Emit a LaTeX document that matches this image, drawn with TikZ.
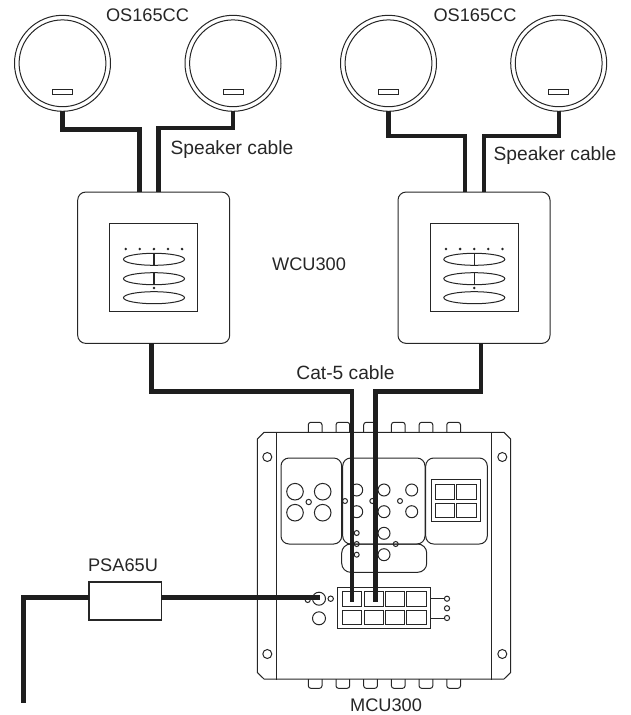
\documentclass[tikz,border=0pt]{standalone}
\usepackage{fontspec}
\setmainfont{Liberation Sans}
\definecolor{ink}{HTML}{262626}
\tikzset{
  thin line/.style={draw=ink,line width=1pt},
  cable/.style={draw=ink!80!black,line width=4.6pt,line cap=butt,line join=miter},
  speaker/.style={circle,thin line,minimum size=96pt,inner sep=0pt,outer sep=0pt},
  slot/.style={rectangle,thin line,minimum width=20pt,minimum height=5pt,inner sep=0pt},
  wallbox/.style={rectangle,thin line,rounded corners=8pt,minimum width=152pt,minimum height=151.3pt,inner sep=0pt,outer sep=0pt},
  keypad/.style={rectangle,thin line,minimum width=88pt,minimum height=88pt,inner sep=0pt},
  key/.style={ellipse,thin line,minimum width=61pt,minimum height=12pt,inner sep=0pt},
  panel/.style={thin line,rounded corners=8pt},
  hole/.style={circle,thin line,inner sep=0pt,minimum size=#1},
  hole/.default=9pt,
  cell/.style={rectangle,thin line,inner sep=0pt,outer sep=0pt},
  label/.style={inner sep=0pt,anchor=base,text=ink,font=\fontsize{18.2}{22}\selectfont},
  wordlabel/.style={label,font=\fontsize{19.2}{22}\selectfont},
}
\usetikzlibrary{shapes.geometric}
\begin{document}
\begin{tikzpicture}[x=1pt,y=-1pt]
\useasboundingbox (0,0) rectangle (630,715);
% speakers
\foreach \n/\x in {s1/62.5,s2/233,s3/388.5,s4/558.7}{
  \node[speaker] (\n) at (\x,63.3) {};
  \draw[thin line] (\x,63.3) circle[radius=43.4];
  \node[slot] (\n slot) at (\x,92) {};
}
% wall control units
\foreach \n/\d in {w1/0,w2/320.3}{
  \begin{scope}[xshift=\d pt]
  \node[wallbox] (\n) at (153.7,267.7) {};
  \node[keypad] (\n pad) at (153.7,267.7) {};
  \foreach \x in {125.7,139.8,153.9,168,182.1}
    \fill[ink] (\x,249) circle[radius=1.4];
  \node[key] (\n k1) at (154,259.3) {};
  \node[key] (\n k2) at (154,278.7) {};
  \node[key] (\n k3) at (154,297.7) {};
  \draw[ink,line width=1.6pt] (154,253.3) -- (154,265.3) (154,272.7) -- (154,284.7);
  \fill[ink] (154,288) circle[radius=1.4];
  \end{scope}
}
% MCU300 body
\node[minimum width=253.4pt,minimum height=246.7pt,inner sep=0pt,outer sep=0pt] (mcu) at (384,555.7) {};
\foreach \x in {308.3,336,363.7,391.4,419.1,446.8}{
  \draw[thin line,rounded corners=2.5pt] (\x,432.3) -- (\x,422.3) -- (\x+13.7,422.3) -- (\x+13.7,432.3);
  \draw[thin line,rounded corners=2.5pt] (\x,679) -- (\x,688.3) -- (\x+13.7,688.3) -- (\x+13.7,679);
}
\draw[thin line] (264,432.3) -- (504,432.3) -- (510.7,439) -- (510.7,672.5) -- (504,679) -- (264,679) -- (257.3,672.5) -- (257.3,439) -- cycle;
\draw[thin line] (276.7,432.3) -- (276.7,680) (491.7,432.3) -- (491.7,680);
\foreach \n/\x/\y in {h1/267.3/457,h2/502.3/457,h3/267.3/654,h4/502.3/654}
  \node[hole] (\n) at (\x,\y) {};
% panels
\draw[panel] (281,458) rectangle (341.7,544);
\draw[panel] (342.7,458) rectangle (425,544);
\draw[panel] (425.7,458) rectangle (487.3,544);
\draw[panel,rounded corners=9pt] (341.7,544) rectangle (426.7,572.3);
% left panel holes
\foreach \x in {295,322.7} \foreach \y in {491.7,512.7}
  \draw[thin line] (\x,\y) circle[radius=8.3];
\draw[thin line] (308.7,502) circle[radius=2.7];
% middle panel holes
\foreach \x in {356.7,384,411.7} \foreach \y in {490,511.7}
  \draw[thin line] (\x,\y) circle[radius=6];
\draw[thin line] (384,533.3) circle[radius=6] (384,554.7) circle[radius=6];
\foreach \x/\y in {345/501,372.3/501,400/501,356.7/533,356.7/544,356.7/554.7,395.7/544}
  \draw[thin line] (\x,\y) circle[radius=2.5];
% display
\draw[thin line] (431.7,479.7) rectangle (480.3,521);
\foreach \a/\b in {435.7/454.7,456.7/476} \foreach \c/\d in {484.7/499.3,503/517.3}
  \draw[thin line] (\a,\c) rectangle (\b,\d);
% connector block
\node[cell,minimum width=93.3pt,minimum height=41pt] (block) at (384.3,608.2) {};
\foreach \n/\x in {1/352.2,2/373.7,3/395,4/416.5}{
  \node[cell,minimum width=19.2pt,minimum height=15pt] (c\n) at (\x,599.2) {};
  \node[cell,minimum width=19.2pt,minimum height=14.5pt] (d\n) at (\x,617.5) {};
}
\node[hole=5.2pt] (o1) at (447,598.7) {};
\node[hole=5.2pt] (o2) at (447,608.3) {};
\node[hole=5.2pt] (o3) at (447,618) {};
\draw[thin line] (block.east |- o1) -- (o1);
\draw[thin line] (block.east |- o3) -- (o3);
\node[hole=13pt] (jack) at (319,598.7) {};
\node[hole=13pt] (jack2) at (319,618.3) {};
\node[hole=5.4pt] (jack3) at (330.7,598.7) {};
\draw[thin line] (307.7,600) circle[radius=2.5];
% PSU
\node[rectangle,draw=ink,line width=1.6pt,minimum width=72.6pt,minimum height=38pt,inner sep=0pt,outer sep=0pt] (psa) at (125,601) {};
% port coordinates
\coordinate (w1a) at (139.5,192);
\coordinate (w1b) at (158.5,192);
\coordinate (w2a) at (465.3,192);
\coordinate (w2b) at (484.3,192);
\coordinate (w1c) at (151.7,343.4);
\coordinate (w2c) at (481,343.4);
\coordinate (p1) at (352,601.7);
\coordinate (p2) at (375.5,601.7);
\coordinate (mains) at (23,702.7);
\coordinate (pwr) at (320,597.7);
\coordinate (psaL) at (88.7,597.7);
\coordinate (psaR) at (161.3,597.7);
% cables
\draw[cable] (s1.south) -- ++(0,18) -| (w1a);
\draw[cable,line width=4.2pt] (s2.south) -- ++(0,16.5) -| (w1b);
\draw[cable,line width=4.2pt] (s3.south) -- ++(0,24.6) -| (w2a);
\draw[cable,line width=4.2pt] (s4.south) -- ++(0,24.6) -| (w2b);
\draw[cable] (w1c) |- (352,391.3) -- (p1);
\draw[cable] (w2c) |- (375.5,391.3) -- (p2);
\draw[cable,line width=5pt] (mains) |- (psaL);
\draw[cable,line width=5pt] (psaR) -- (pwr);
% labels
\node[label] (lb1) at (147.5,21.7) {OS165CC};
\node[label] (lb2) at (475,21.7) {OS165CC};
\node[wordlabel] (lb3) at (232,154.3) {Speaker cable};
\node[wordlabel] (lb4) at (555,160) {Speaker cable};
\node[label] (lb5) at (309,270) {WCU300};
\node[wordlabel] (lb6) at (345.5,379) {Cat-5 cable};
\node[label] (lb7) at (123,571) {PSA65U};
\node[label] (lb8) at (386,711.7) {MCU300};
\end{tikzpicture}
\end{document}
